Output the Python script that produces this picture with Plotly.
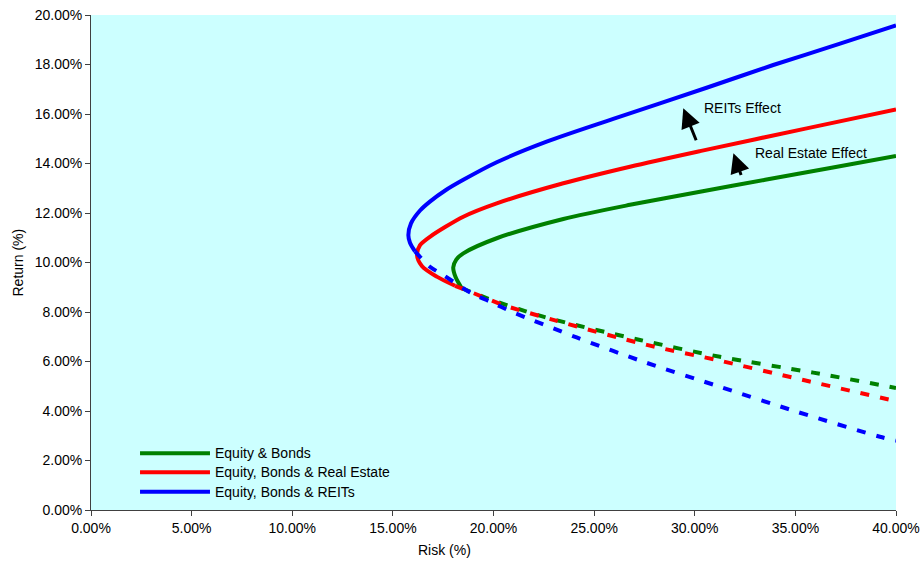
import plotly.graph_objects as go

# ---- data (risk %, return %) ----
eb_solid_risk = [18.42, 18.12, 18.00, 18.15, 18.50, 20.16, 23.47, 26.78, 30.26, 33.50, 36.80, 40.00]
eb_solid_ret = [8.96, 9.40, 9.80, 10.12, 10.37, 10.98, 11.76, 12.33, 12.86, 13.34, 13.83, 14.30]
eb_dash_risk = [18.42, 19.60, 22.47, 27.28, 31.25, 35.89, 40.00]
eb_dash_ret = [8.96, 8.58, 7.81, 6.87, 6.19, 5.55, 4.93]

ebre_solid_risk = [18.09, 17.18, 16.45, 16.20, 16.35, 16.84, 18.50, 20.16, 23.47, 26.78, 30.26, 35.56, 40.00]
ebre_solid_ret = [9.06, 9.43, 9.85, 10.30, 10.70, 11.04, 11.85, 12.39, 13.20, 13.87, 14.50, 15.42, 16.18]
ebre_dash_risk = [18.09, 19.66, 20.49, 22.97, 27.62, 31.09, 35.40, 40.00]
ebre_dash_ret = [9.06, 8.55, 8.28, 7.68, 6.67, 6.06, 5.25, 4.40]

ebreit_solid_risk = [16.10, 15.85, 15.77, 15.90, 16.35, 16.84, 17.60, 18.50, 20.16, 22.64, 25.95, 30.59, 33.90, 37.22, 40.00]
ebreit_solid_ret = [10.45, 10.80, 11.11, 11.58, 12.10, 12.46, 12.91, 13.34, 14.05, 14.88, 15.80, 17.06, 17.98, 18.84, 19.58]
ebreit_dash_risk = [16.10, 16.84, 17.51, 18.92, 19.83, 20.90, 21.90, 22.97, 24.13, 27.45, 31.25, 35.07, 39.20, 40.00]
ebreit_dash_ret = [10.45, 9.83, 9.49, 8.75, 8.42, 8.01, 7.68, 7.34, 6.97, 5.99, 4.98, 3.97, 2.96, 2.80]

series_names = ["Equity & Bonds", "Equity, Bonds & Real Estate", "Equity, Bonds & REITs"]
series_colors = ["#008000", "#FF0000", "#0000FF"]

x_ticks = [0, 5, 10, 15, 20, 25, 30, 35, 40]
y_ticks = [0, 2, 4, 6, 8, 10, 12, 14, 16, 18, 20]

FONT = "Arial, Liberation Sans, sans-serif"

fig = go.Figure()
solids = [(eb_solid_risk, eb_solid_ret), (ebre_solid_risk, ebre_solid_ret), (ebreit_solid_risk, ebreit_solid_ret)]
dashes = [(eb_dash_risk, eb_dash_ret), (ebre_dash_risk, ebre_dash_ret), (ebreit_dash_risk, ebreit_dash_ret)]
for name, col, (sx, sy), (dx, dy) in zip(series_names, series_colors, solids, dashes):
    fig.add_trace(go.Scatter(x=sx, y=sy, mode="lines", name=name,
                             line=dict(color=col, width=4, shape="spline", smoothing=0.8),
                             showlegend=False, hoverinfo="skip"))
    fig.add_trace(go.Scatter(x=dx, y=dy, mode="lines", name=name + " (lower)",
                             line=dict(color=col, width=4, dash="9px,11px", shape="spline", smoothing=0.8),
                             showlegend=False, hoverinfo="skip"))

# custom legend (long line samples as in reference)
leg_rows_y = [0.1145, 0.0762, 0.0370]
for name, col, yy in zip(series_names, series_colors, leg_rows_y):
    fig.add_shape(type="line", xref="paper", yref="paper", x0=0.0609, x1=0.1478, y0=yy, y1=yy,
                  line=dict(color=col, width=4))
    fig.add_annotation(xref="paper", yref="paper", x=0.1516, y=yy, text=name, showarrow=False,
                       xanchor="left", yanchor="middle", font=dict(family=FONT, size=14, color="#000000"))

# effect arrows
fig.add_annotation(x=29.43, y=16.23, ax=30.10, ay=14.88, xref="x", yref="y", axref="x", ayref="y",
                   text="", showarrow=True, arrowhead=2, arrowsize=1.3, arrowwidth=3, arrowcolor="#000000")
fig.add_annotation(x=31.92, y=14.41, ax=32.33, ay=13.47, xref="x", yref="y", axref="x", ayref="y",
                   text="", showarrow=True, arrowhead=2, arrowsize=1.3, arrowwidth=3, arrowcolor="#000000")
fig.add_annotation(x=30.35, y=16.23, text="REITs Effect", showarrow=False, xanchor="left", yanchor="middle",
                   font=dict(family=FONT, size=14, color="#000000"))
fig.add_annotation(x=32.89, y=14.41, text="Real Estate Effect", showarrow=False, xanchor="left", yanchor="middle",
                   font=dict(family=FONT, size=14, color="#000000"))

# axis titles
fig.add_annotation(xref="paper", yref="paper", x=(444 - 91) / 805, y=-(550 - 510) / 495, text="Risk (%)",
                   showarrow=False, xanchor="center", yanchor="middle", font=dict(family=FONT, size=14, color="#000000"))
fig.add_annotation(xref="paper", yref="paper", x=(17 - 91) / 805, y=0.5, text="Return (%)", textangle=-90,
                   showarrow=False, xanchor="center", yanchor="middle", font=dict(family=FONT, size=14, color="#000000"))

fig.update_layout(
    width=923, height=563,
    margin=dict(l=91, r=27, t=15, b=53),
    paper_bgcolor="#FFFFFF", plot_bgcolor="#CCFFFF",
    font=dict(family=FONT, size=14, color="#000000"),
    showlegend=False,
)
fig.update_xaxes(range=[0, 40], tickvals=x_ticks, ticktext=[f"{v:.2f}%" for v in x_ticks], automargin=False,
                 ticklabeloverflow="allow",
                 showgrid=False, zeroline=False, showline=True, linecolor="#404040", linewidth=1,
                 ticks="outside", ticklen=5, tickcolor="#404040", tickfont=dict(family=FONT, size=14))
fig.update_yaxes(range=[0, 20], tickvals=y_ticks, ticktext=[f"{v:.2f}%" for v in y_ticks], automargin=False,
                 ticklabeloverflow="allow",
                 showgrid=False, zeroline=False, showline=True, linecolor="#404040", linewidth=1,
                 ticks="outside", ticklen=5, tickcolor="#404040", tickfont=dict(family=FONT, size=14))

fig.write_html("out.html", config={"displayModeBar": False},
               post_script="document.body.style.margin='0px'; document.body.style.overflow='hidden';")
